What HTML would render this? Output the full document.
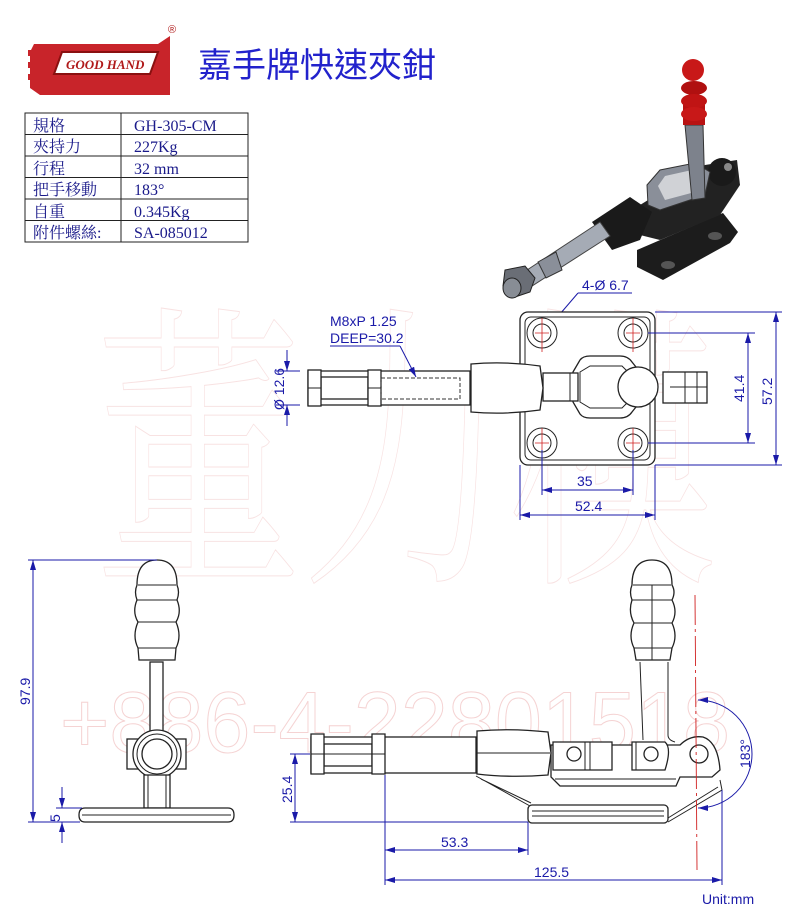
<!DOCTYPE html>
<html><head><meta charset="utf-8"><style>
html,body{margin:0;padding:0;background:#fff;}
svg{display:block;}
.d{stroke:#1a1aa8;stroke-width:1;fill:none;}
.t{font-family:"Liberation Sans",sans-serif;fill:#1a1aa8;font-size:14px;}
.k{stroke:#222;stroke-width:1.3;fill:#fff;}
.kn{stroke:#222;stroke-width:1;fill:none;}
.tb{font-family:"Liberation Serif","Noto Serif CJK SC",serif;font-size:16px;fill:#1a1a8a;}
</style></head><body>
<svg width="800" height="915" viewBox="0 0 800 915" xmlns="http://www.w3.org/2000/svg">
<defs><marker id="a" viewBox="0 0 10 6" refX="10" refY="3" markerWidth="10" markerHeight="6" orient="auto-start-reverse"><path d="M0,0L10,3L0,6z" fill="#1a1aa8"/></marker></defs>

<!-- watermark -->
<text x="60" y="752" font-family="Liberation Sans,sans-serif" font-size="86" fill="none" stroke="#f5d3d3" stroke-width="1" textLength="670" lengthAdjust="spacingAndGlyphs">+886-4-22801518</text>
<text x="95" y="560" font-family="Noto Serif CJK SC,serif" font-size="300" fill="none" stroke="#f8e2e2" stroke-width="1" textLength="620" lengthAdjust="spacingAndGlyphs">董力模</text>

<!-- logo -->
<g>
<path d="M34,44 H158 L170,36 V95 H40 L30,88 V52 Z" fill="#c8242a"/>
<rect x="28" y="50" width="16" height="6" fill="#c8242a"/>
<rect x="28" y="62" width="16" height="6" fill="#c8242a"/>
<rect x="28" y="74" width="16" height="6" fill="#c8242a"/>
<path d="M62,52 H158 L150,74 H54 Z" fill="#fff" stroke="#8a1010" stroke-width="2"/>
<text x="66" y="69" font-family="Liberation Serif,serif" font-style="italic" font-weight="bold" font-size="13" fill="#b01a1a">GOOD HAND</text>
<text x="168" y="33" font-family="Liberation Sans,sans-serif" font-size="11" fill="#b01a1a">®</text>
</g>
<text x="198" y="77" font-family="Liberation Sans,'Noto Sans CJK TC',sans-serif" font-size="34" fill="#2222cc">嘉手牌快速夾鉗</text>

<!-- table -->
<g stroke="#222" stroke-width="1" fill="none">
<rect x="25" y="113" width="223" height="129"/>
<line x1="121" y1="113" x2="121" y2="242"/>
<line x1="25" y1="134.5" x2="248" y2="134.5"/>
<line x1="25" y1="156" x2="248" y2="156"/>
<line x1="25" y1="177.5" x2="248" y2="177.5"/>
<line x1="25" y1="199" x2="248" y2="199"/>
<line x1="25" y1="220.5" x2="248" y2="220.5"/>
</g>
<g class="tb">
<text x="33" y="131">規格</text><text x="134" y="131">GH-305-CM</text>
<text x="33" y="152">夾持力</text><text x="134" y="152">227Kg</text>
<text x="33" y="174">行程</text><text x="134" y="174">32 mm</text>
<text x="33" y="195">把手移動</text><text x="134" y="195">183°</text>
<text x="33" y="217">自重</text><text x="134" y="217">0.345Kg</text>
<text x="33" y="238">附件螺絲:</text><text x="134" y="238">SA-085012</text>
</g>

<!-- 3D render -->
<g>
<polygon points="637,250 723,213 738,232 730,243 663,280 637,267" fill="#1c1c1c"/>
<ellipse cx="668" cy="265" rx="7" ry="4" fill="#555"/>
<ellipse cx="715" cy="236" rx="7" ry="4" fill="#555"/>
<polygon points="640,205 705,165 737,160 740,185 720,215 660,240 640,235" fill="#222"/>
<circle cx="722" cy="172" r="14" fill="#1a1a1a"/>
<circle cx="728" cy="167" r="4" fill="#888"/>
<polygon points="647,185 660,170 695,163 710,172 705,195 660,210 648,205" fill="#8a8f99" stroke="#333"/>
<polygon points="658,186 665,176 692,170 700,178 695,192 665,200" fill="#fff" opacity="0.6"/>
<polygon points="685,125 703,125 705,198 692,200" fill="#7d828c" stroke="#333"/>
<polygon points="592,222 630,197 652,212 640,240 612,250" fill="#1a1a1a"/>
<polygon points="524,272 600,222 610,236 532,286" fill="#a5abb5" stroke="#444"/>
<polygon points="538,262 556,252 562,270 546,278" fill="#8a8f99" stroke="#333"/>
<polygon points="505,270 525,266 535,278 530,292 512,298 503,286" fill="#6a6e76" stroke="#222"/>
<ellipse cx="512" cy="288" rx="9" ry="10" fill="#888d95" stroke="#222"/>
<rect x="683" y="100" width="22" height="25" fill="#b81212"/>
<ellipse cx="694" cy="88" rx="13" ry="7" fill="#b01010"/>
<ellipse cx="694" cy="101" rx="13" ry="7" fill="#c01414"/>
<ellipse cx="694" cy="114" rx="13" ry="7" fill="#c81818"/>
<circle cx="693" cy="70" r="11" fill="#c81818"/>
</g>

<!-- 4-Ø6.7 leader -->
<line x1="578" y1="293" x2="632" y2="293" class="d"/>
<line x1="578" y1="293" x2="548" y2="328" class="d" marker-end="url(#a)"/>
<text x="582" y="290" class="t">4-Ø 6.7</text>

<!-- top view -->
<g>
<rect x="520" y="312" width="135" height="153" rx="8" class="k"/>
<rect x="525" y="317" width="125" height="143" rx="6" class="kn"/>
<g class="kn">
<circle cx="542" cy="333" r="15"/><circle cx="542" cy="333" r="9"/>
<circle cx="633" cy="333" r="15"/><circle cx="633" cy="333" r="9"/>
<circle cx="542" cy="443" r="15"/><circle cx="542" cy="443" r="9"/>
<circle cx="633" cy="443" r="15"/><circle cx="633" cy="443" r="9"/>
</g>
<g stroke="#d02020" stroke-width="0.8">
<path d="M535,333h14M542,326v14M626,333h14M633,326v14M535,443h14M542,436v14M626,443h14M633,436v14"/>
<path d="M542,318v8M542,340v12M633,318v8M633,340v12M542,428v8M542,450v12M633,428v8M633,450v12"/>
</g>
<path d="M573,372 L580,360 Q583,356 590,356 H620 Q628,356 632,362 L640,372 V402 L632,412 Q628,418 620,418 H590 Q583,418 580,414 L573,402 Z" class="k"/>
<path d="M580,372 L590,366 H622 L632,376 V398 L622,408 H590 L580,402 Z" class="kn"/>
<rect x="543" y="373" width="35" height="28" class="k"/>
<line x1="570" y1="373" x2="570" y2="401" class="kn"/>
<rect x="663" y="372" width="44" height="31" class="k"/>
<line x1="685" y1="372" x2="685" y2="403" class="kn"/><line x1="697" y1="372" x2="697" y2="403" class="kn"/>
<line x1="670" y1="387" x2="707" y2="387" class="kn"/>
<circle cx="638" cy="387" r="20" class="k"/>
<rect x="308" y="371" width="162" height="34" class="k"/>
<rect x="321" y="377" width="47" height="22" class="k"/>
<rect x="308" y="370" width="13" height="36" class="k"/>
<rect x="368" y="370" width="13" height="36" class="k"/>
<line x1="308" y1="388" x2="321" y2="388" class="kn"/><line x1="368" y1="388" x2="381" y2="388" class="kn"/>
<rect x="381" y="378" width="79" height="21" fill="none" stroke="#333" stroke-dasharray="4,2"/>
<path d="M471,364 Q505,361 540,366 L543,388 L540,410 Q505,415 471,412 Z" class="k"/>
</g>
<!-- top view dims -->
<line x1="276" y1="371" x2="300" y2="371" class="d"/>
<line x1="276" y1="405" x2="300" y2="405" class="d"/>
<line x1="287" y1="350" x2="287" y2="371" class="d" marker-end="url(#a)"/>
<line x1="287" y1="426" x2="287" y2="405" class="d" marker-end="url(#a)"/>
<text transform="translate(284,410) rotate(-90)" class="t" font-size="15">Ø 12.6</text>
<text x="330" y="326" class="t" font-size="13">M8xP 1.25</text>
<text x="330" y="343" class="t" font-size="13">DEEP=30.2</text>
<line x1="330" y1="346" x2="400" y2="346" class="d"/>
<line x1="400" y1="346" x2="416" y2="377" class="d" marker-end="url(#a)"/>
<line x1="655" y1="312" x2="782" y2="312" class="d"/>
<line x1="655" y1="465" x2="782" y2="465" class="d"/>
<line x1="648" y1="333" x2="755" y2="333" class="d"/>
<line x1="648" y1="443" x2="755" y2="443" class="d"/>
<line x1="748" y1="333" x2="748" y2="443" class="d" marker-start="url(#a)" marker-end="url(#a)"/>
<line x1="776" y1="312" x2="776" y2="465" class="d" marker-start="url(#a)" marker-end="url(#a)"/>
<text transform="translate(744,402) rotate(-90)" class="t" font-size="15">41.4</text>
<text transform="translate(772,405) rotate(-90)" class="t" font-size="15">57.2</text>
<line x1="542" y1="450" x2="542" y2="495" class="d"/>
<line x1="633" y1="450" x2="633" y2="495" class="d"/>
<line x1="520" y1="465" x2="520" y2="520" class="d"/>
<line x1="655" y1="465" x2="655" y2="520" class="d"/>
<line x1="542" y1="490" x2="633" y2="490" class="d" marker-start="url(#a)" marker-end="url(#a)"/>
<line x1="520" y1="515" x2="655" y2="515" class="d" marker-start="url(#a)" marker-end="url(#a)"/>
<text x="577" y="486" class="t" font-size="15">35</text>
<text x="575" y="511" class="t" font-size="15">52.4</text>

<!-- front view (bottom left) -->
<g>
<path d="M137,585 Q137,560 157,560 Q177,560 177,585 Q180,592 177,600 Q182,612 176,622 Q182,636 176,648 L175,660 H139 L138,648 Q132,636 138,622 Q132,612 137,600 Q134,592 137,585Z" class="k"/>
<path d="M138,585H176M137,600H177M138,622H176M138,648H176" class="kn"/>
<rect x="150" y="662" width="13" height="73" class="k"/>
<rect x="127" y="739" width="59" height="30" class="k"/>
<circle cx="157" cy="754" r="24" class="k"/>
<circle cx="157" cy="754" r="20" class="kn"/>
<circle cx="157" cy="754" r="15" class="k"/>
<rect x="144" y="775" width="26" height="33" class="k"/>
<line x1="148" y1="775" x2="148" y2="808" class="kn"/><line x1="166" y1="775" x2="166" y2="808" class="kn"/>
<path d="M85,808 H228 Q234,808 234,815 Q234,822 228,822 H85 Q79,822 79,815 Q79,808 85,808Z" class="k"/>
<line x1="82" y1="815" x2="231" y2="815" class="kn"/>
</g>
<line x1="28" y1="560" x2="157" y2="560" class="d"/>
<line x1="28" y1="822" x2="80" y2="822" class="d"/>
<line x1="33" y1="560" x2="33" y2="822" class="d" marker-start="url(#a)" marker-end="url(#a)"/>
<text transform="translate(30,705) rotate(-90)" class="t" font-size="15">97.9</text>
<line x1="56" y1="808" x2="82" y2="808" class="d"/>
<line x1="62" y1="787" x2="62" y2="808" class="d" marker-end="url(#a)"/>
<line x1="62" y1="843" x2="62" y2="822" class="d" marker-end="url(#a)"/>
<text transform="translate(60,822) rotate(-90)" class="t" font-size="15">5</text>

<!-- side view -->
<g>
<path d="M632,585 Q632,560 652,560 Q672,560 672,585 Q676,592 672,600 Q678,612 672,623 Q678,636 672,648 L670,660 H636 L634,648 Q628,636 634,623 Q628,612 632,600 Q629,592 632,585Z" class="k"/>
<path d="M633,585H671M632,600H672M634,623H672M634,648H672M652,585V660" class="kn"/>
<path d="M640,662 L643,740 M668,662 L668,735 Q668,740 675,742" class="kn" stroke-width="1.3"/>
<path d="M476,776 L530,806 M481,779 L531,803" class="kn" stroke-width="1.3"/>
<path d="M668,822 L722,790 L720,780 M668,818 L718,787" class="kn" stroke-width="1.3"/>
<rect x="528" y="805" width="140" height="18" rx="4" class="k"/>
<line x1="532" y1="811" x2="664" y2="811" class="kn"/><line x1="532" y1="816" x2="664" y2="816" class="kn"/>
<path d="M551,745 H680 Q690,735 703,737 Q718,742 720,770 L712,777 H680 L676,786 H560 L551,777 Z" class="k"/>
<path d="M555,779 H676" class="kn"/>
<path d="M553,742 H612 V770 H553 Z" class="k"/>
<circle cx="574" cy="754" r="7" class="k"/>
<line x1="585" y1="742" x2="585" y2="770" class="kn"/><line x1="590" y1="742" x2="590" y2="770" class="kn"/>
<path d="M632,742 H665 Q672,748 665,770 H632 Z" class="k"/>
<line x1="636" y1="742" x2="636" y2="770" class="kn"/>
<circle cx="651" cy="754" r="7" class="k"/>
<circle cx="699" cy="754" r="9" class="k"/>
<rect x="311" y="737" width="165" height="36" class="k"/>
<rect x="324" y="744" width="48" height="22" class="k"/>
<line x1="324" y1="754" x2="372" y2="754" class="kn"/>
<path d="M311,734 H324 V774 H311Z M372,734 H385 V774 H372Z" class="k"/>
<line x1="311" y1="754" x2="324" y2="754" class="kn"/>
<line x1="372" y1="754" x2="385" y2="754" class="kn"/>
<path d="M477,731 Q510,728 548,732 L551,753 L548,775 Q510,778 477,774 Z" class="k"/>
<line x1="477" y1="753" x2="550" y2="753" class="kn"/>
</g>
<line x1="695" y1="595" x2="697" y2="870" stroke="#d02020" stroke-width="0.9" stroke-dasharray="30,4,3,4"/>
<path d="M698,700 A54,54 0 0 1 698,808" class="d" marker-start="url(#a)" marker-end="url(#a)"/>
<text transform="translate(750,768) rotate(-90)" class="t" font-size="14">183°</text>
<line x1="290" y1="754" x2="310" y2="754" class="d"/>
<line x1="290" y1="822" x2="528" y2="822" class="d"/>
<line x1="295" y1="754" x2="295" y2="822" class="d" marker-start="url(#a)" marker-end="url(#a)"/>
<text transform="translate(292,803) rotate(-90)" class="t" font-size="15">25.4</text>
<line x1="385" y1="775" x2="385" y2="885" class="d"/>
<line x1="528" y1="822" x2="528" y2="855" class="d"/>
<line x1="722" y1="790" x2="722" y2="885" class="d"/>
<line x1="385" y1="850" x2="528" y2="850" class="d" marker-start="url(#a)" marker-end="url(#a)"/>
<line x1="385" y1="880" x2="722" y2="880" class="d" marker-start="url(#a)" marker-end="url(#a)"/>
<text x="441" y="847" class="t" font-size="15">53.3</text>
<text x="534" y="877" class="t" font-size="15">125.5</text>
<text x="702" y="904" class="t" font-size="15">Unit:mm</text>
</svg>
</body></html>
